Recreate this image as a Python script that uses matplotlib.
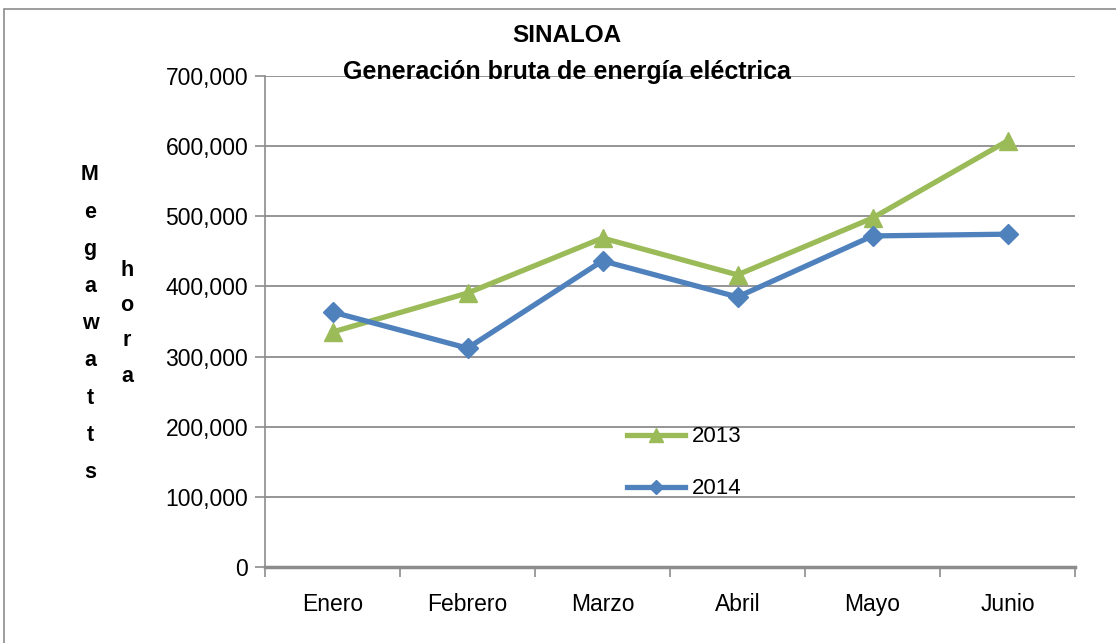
import matplotlib
matplotlib.use('Agg')
import matplotlib.pyplot as plt
from matplotlib.patches import Rectangle
from matplotlib.ticker import FuncFormatter, FixedLocator

meses = ['Enero', 'Febrero', 'Marzo', 'Abril', 'Mayo', 'Junio']
gen_2013 = [335000, 390500, 469000, 416500, 497500, 607500]
gen_2014 = [363500, 312000, 436500, 385000, 472000, 474500]
y_ticks = [0, 100000, 200000, 300000, 400000, 500000, 600000, 700000]

plt.rcParams['font.family'] = ['Liberation Sans', 'DejaVu Sans']

fig = plt.figure(figsize=(11.16, 6.43), dpi=100)
ax = fig.add_axes([265/1116, 1 - 567/643, (1075 - 265)/1116, (567 - 76)/643])

# marco exterior
fig.patches.append(Rectangle((4/1116, -0.01), 1.0, 1 - 9/643 + 0.01, transform=fig.transFigure,
                             fill=False, edgecolor='#8c8c8c', linewidth=1.2))

x = list(range(len(meses)))
ax.plot(x, gen_2013, color='#9BBB59', linewidth=3.8, marker='^', markersize=13,
        label='2013', zorder=3)
ax.plot(x, gen_2014, color='#4F81BD', linewidth=3.8, marker='D', markersize=10,
        label='2014', zorder=4)

ax.set_xlim(-0.5, len(meses) - 0.5)
ax.set_ylim(0, 700000)
ax.set_yticks(y_ticks)
ax.yaxis.set_major_formatter(FuncFormatter(lambda v, p: '0' if v == 0 else f'{int(v):,}'))
ax.set_xticks(x)
ax.set_xticklabels(meses)
ax.xaxis.set_minor_locator(FixedLocator([i - 0.5 for i in range(len(meses) + 1)]))
ax.tick_params(axis='x', which='major', length=0, pad=19, labelsize=16.5)
ax.tick_params(axis='x', which='minor', length=7, color='#8c8c8c', width=1.2)
ax.tick_params(axis='y', length=7, color='#8c8c8c', width=1.2, labelsize=16.5, pad=5)

ax.grid(axis='y', color='#8c8c8c', linewidth=1.3)
ax.set_axisbelow(True)
for s in ['top', 'right']:
    ax.spines[s].set_visible(False)
ax.spines['left'].set_color('#8c8c8c')
ax.spines['left'].set_linewidth(1.2)
ax.spines['bottom'].set_color('#8c8c8c')
ax.spines['bottom'].set_linewidth(2.5)

fig.text(567/1116, 1 - 35/643, 'SINALOA', ha='center', va='center',
         fontsize=17.5, fontweight='bold')
fig.text(567/1116, 1 - 72/643, 'Generación bruta de energía eléctrica', ha='center',
         va='center', fontsize=18, fontweight='bold')

for i, ch in enumerate('Megawatts'):
    fig.text(90/1116, 1 - (175 + i * 37.2)/643, ch, ha='center', va='center',
             fontsize=15.5, fontweight='bold')
for i, ch in enumerate('hora'):
    fig.text(127/1116, 1 - (270 + i * 35.5)/643, ch, ha='center', va='center',
             fontsize=15.5, fontweight='bold')

ax.legend(loc='center left', bbox_to_anchor=(342/810, 0.212), frameon=False,
          fontsize=16, handlelength=2.6, labelspacing=1.4, handletextpad=0.3,
          markerscale=0.75)

fig.savefig('out.png', dpi=100)
